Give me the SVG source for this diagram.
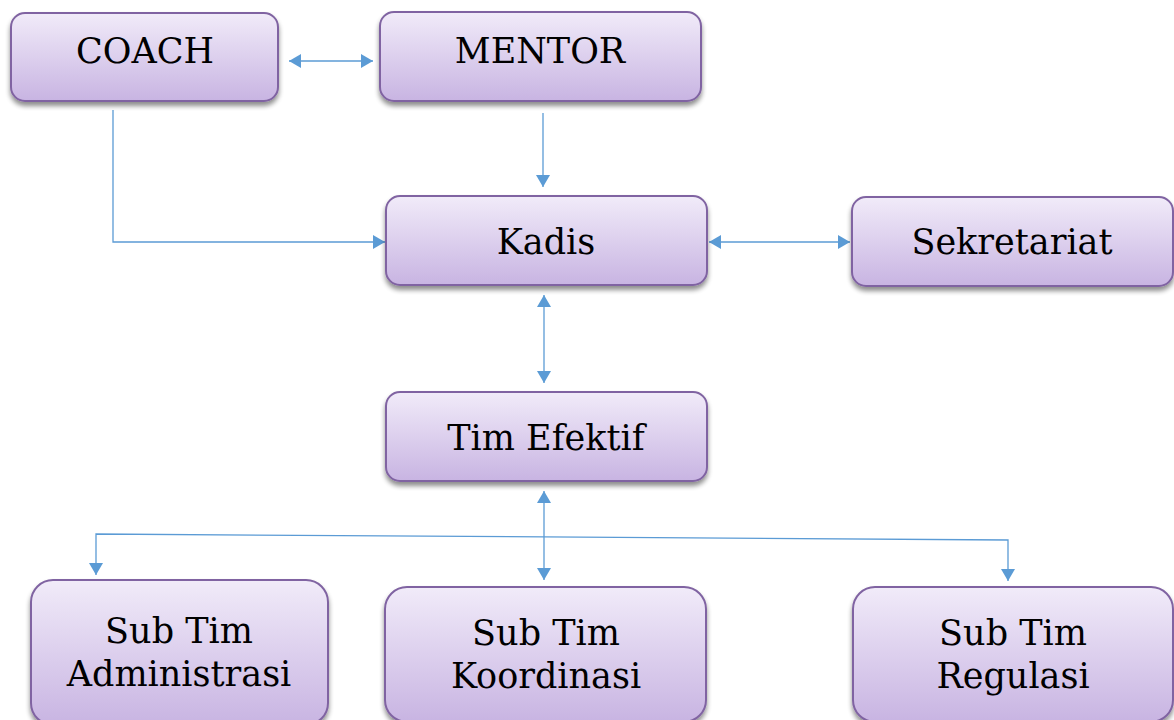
<svg xmlns="http://www.w3.org/2000/svg" width="1174" height="720" viewBox="0 0 1174 720">
<defs>
<linearGradient id="g" x1="0" y1="0" x2="0" y2="1">
<stop offset="0" stop-color="#f1ebf9"/>
<stop offset="1" stop-color="#c8b4e2"/>
</linearGradient>
<filter id="sh" x="-10%" y="-10%" width="120%" height="130%">
<feGaussianBlur in="SourceAlpha" stdDeviation="2.5"/>
<feOffset dx="0" dy="4" result="b"/>
<feComponentTransfer><feFuncA type="linear" slope="0.45"/></feComponentTransfer>
<feMerge><feMergeNode/><feMergeNode in="SourceGraphic"/></feMerge>
</filter>
<marker id="ah" viewBox="0 0 12 14" refX="12" refY="7" markerWidth="12" markerHeight="14" markerUnits="userSpaceOnUse" orient="auto-start-reverse">
<path d="M0,0 L12,7 L0,14 Z" fill="#5b9bd5"/>
</marker>
</defs>
<style>
.box{fill:url(#g);stroke:#8064a2;stroke-width:2;filter:url(#sh)}
.t{font-family:"DejaVu Serif","Liberation Serif",serif;font-size:35px;fill:#000;text-anchor:middle}
.c{fill:none;stroke:#5b9bd5;stroke-width:1.3}
</style>
<rect width="1174" height="720" fill="#fff"/>
<g id="connectors">
<path class="c" d="M289,61 H373" marker-start="url(#ah)" marker-end="url(#ah)"/>
<path class="c" d="M543,113 V187" marker-end="url(#ah)"/>
<path class="c" d="M113,110 V242 H385" marker-end="url(#ah)"/>
<path class="c" d="M709,242 H850" marker-start="url(#ah)" marker-end="url(#ah)"/>
<path class="c" d="M544,295 V383" marker-start="url(#ah)" marker-end="url(#ah)"/>
<path class="c" d="M544,491 V580" marker-start="url(#ah)" marker-end="url(#ah)"/>
<path class="c" d="M96,575 V534 L1008,540 V581" marker-start="url(#ah)" marker-end="url(#ah)"/>
</g>
<g id="coach"><rect class="box" x="11" y="13" width="267" height="88" rx="14"/><text class="t" x="145" y="63">COACH</text></g>
<g id="mentor"><rect class="box" x="380" y="12" width="321" height="89" rx="14"/><text class="t" x="540" y="63">MENTOR</text></g>
<g id="kadis"><rect class="box" x="386" y="196" width="321" height="89" rx="14"/><text class="t" x="546" y="254">Kadis</text></g>
<g id="sekretariat"><rect class="box" x="852" y="197" width="321" height="89" rx="14"/><text class="t" x="1012" y="254">Sekretariat</text></g>
<g id="tim-efektif"><rect class="box" x="386" y="392" width="321" height="89" rx="14"/><text class="t" x="546" y="450">Tim Efektif</text></g>
<g id="sub-administrasi"><rect class="box" x="31" y="580" width="297" height="145" rx="22"/><text class="t" x="179" y="643">Sub Tim</text><text class="t" x="179" y="686">Administrasi</text></g>
<g id="sub-koordinasi"><rect class="box" x="385" y="587" width="321" height="135" rx="22"/><text class="t" x="546" y="645">Sub Tim</text><text class="t" x="546" y="688">Koordinasi</text></g>
<g id="sub-regulasi"><rect class="box" x="853" y="587" width="320" height="135" rx="22"/><text class="t" x="1013" y="645">Sub Tim</text><text class="t" x="1013" y="688">Regulasi</text></g>
</svg>
